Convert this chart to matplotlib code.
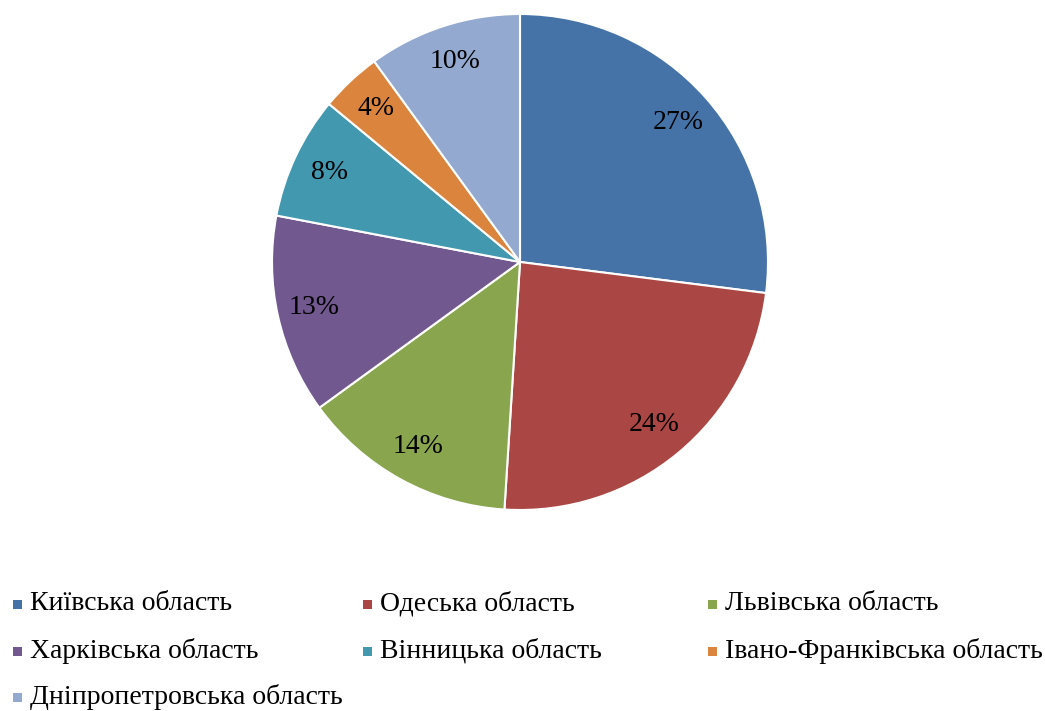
import matplotlib.pyplot as plt
from matplotlib.patches import Rectangle

plt.rcParams['font.family'] = ['Liberation Serif', 'DejaVu Serif']

regions = ["Київська область", "Одеська область", "Львівська область",
           "Харківська область", "Вінницька область", "Івано-Франківська область",
           "Дніпропетровська область"]
shares = [27, 24, 14, 13, 8, 4, 10]
colors = ["#4572A7", "#AA4643", "#89A54E", "#71588F", "#4198AF", "#DB843D", "#93A9CF"]

W, H = 1045, 711
fig = plt.figure(figsize=(W / 100, H / 100), dpi=100)

# pie: centre (520, 262) px, radius 248 px
cx, cy, r = 520, 262, 248
ax = fig.add_axes([(cx - r) / W, (H - cy - r) / H, 2 * r / W, 2 * r / H])
ax.pie(shares, colors=colors, startangle=90, counterclock=False, radius=1,
       autopct=lambda p: f"{p:.0f}%", pctdistance=0.85,
       wedgeprops=dict(edgecolor="white", linewidth=1.5),
       textprops=dict(fontsize=20, color="black"))
ax.set_xlim(-1.0, 1.0)
ax.set_ylim(-1.0, 1.0)
ax.axis("off")

# legend laid out like Excel: three equal columns
col_x = [10, 360, 705]
row_y = [604, 651, 697]
for i, (name, c) in enumerate(zip(regions, colors)):
    x = col_x[i % 3]
    y = row_y[i // 3]
    fig.patches.append(Rectangle(((x + 3) / W, (H - y - 4.5) / H), 9 / W, 9 / H,
                                 transform=fig.transFigure, facecolor=c,
                                 edgecolor="none"))
    fig.text((x + 20) / W, (H - y) / H, name, fontsize=20, va="center", ha="left")

fig.savefig("out.png", dpi=100, facecolor="white")
